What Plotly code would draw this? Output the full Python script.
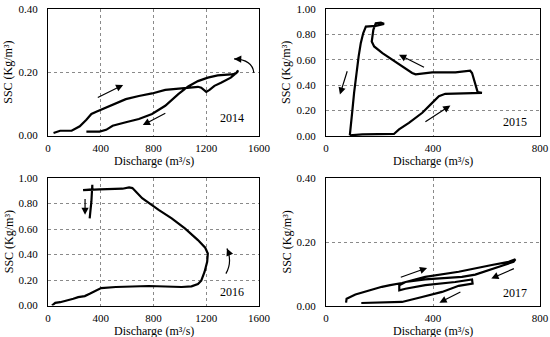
import plotly.graph_objects as go

# ---------------- data ----------------
q2014 = [42, 92, 179, 241, 291, 329, 366, 416, 490, 590, 689, 789, 889, 1038, 1137, 1162, 1200, 1225, 1262, 1312, 1386, 1436, 1441,
         1424, 1386, 1287, 1212, 1137, 1063, 988, 889, 789, 689, 590, 490, 441, 391, 291]
s2014 = [0.008, 0.015, 0.015, 0.029, 0.050, 0.068, 0.075, 0.084, 0.099, 0.115, 0.125, 0.133, 0.144, 0.151, 0.154, 0.151, 0.138, 0.144, 0.157, 0.167, 0.183, 0.2005, 0.206,
         0.196, 0.193, 0.190, 0.183, 0.172, 0.155, 0.131, 0.094, 0.068, 0.052, 0.042, 0.031, 0.018, 0.0125, 0.0125]

q2015 = [89, 136, 254, 273, 310, 360, 397, 422, 446, 508, 583, 567, 558, 546, 539, 484, 397, 335, 322, 285, 248, 211, 180, 171, 177,
         186, 205, 217, 186, 149, 139, 130, 122, 112, 105, 99, 93, 89]
s2015 = [0.005, 0.013, 0.016, 0.052, 0.104, 0.183, 0.261, 0.313, 0.332, 0.334, 0.339, 0.345, 0.405, 0.496, 0.514, 0.501, 0.501, 0.486, 0.496, 0.548, 0.595, 0.653, 0.705, 0.744, 0.836,
         0.888, 0.893, 0.883, 0.867, 0.862, 0.809, 0.731, 0.627, 0.470, 0.339, 0.209, 0.078, 0.005]

q2016 = [30, 55, 92, 142, 192, 229, 279, 316, 366, 403, 515, 764, 1013, 1088, 1137, 1162, 1187, 1207, 1212, 1192, 1137, 1038, 938, 839, 714, 677, 640, 615, 565, 391, 266,
         336, 336, 329, 316]
s2016 = [0.0, 0.021, 0.026, 0.037, 0.053, 0.066, 0.074, 0.092, 0.118, 0.137, 0.145, 0.153, 0.145, 0.150, 0.168, 0.195, 0.263, 0.342, 0.408, 0.453, 0.513, 0.605, 0.684, 0.750, 0.842, 0.882, 0.921, 0.926, 0.916, 0.911, 0.905,
         0.911, 0.947, 0.816, 0.684]

q2017 = [75, 77, 110, 160, 209, 240, 284, 371, 496, 620, 683, 708,
         701, 658, 608, 558, 508, 371, 297, 274, 274, 297, 371, 483, 546, 548, 496, 434, 359, 284, 132]
s2017 = [0.0105, 0.023, 0.036, 0.049, 0.060, 0.065, 0.072, 0.091, 0.107, 0.128, 0.138, 0.146,
         0.138, 0.126, 0.112, 0.098, 0.091, 0.083, 0.075, 0.065, 0.049, 0.054, 0.065, 0.075, 0.083, 0.070, 0.063, 0.044, 0.028, 0.0126, 0.0094]

years = ["2014", "2015", "2016", "2017"]
x_max = [1600, 800, 1600, 800]
y_max = [0.40, 1.00, 1.00, 0.40]
x_ticks = [[0, 400, 800, 1200, 1600], [0, 400, 800], [0, 400, 800, 1200, 1600], [0, 400, 800]]
y_ticks = [[0, 0.2, 0.4], [0, 0.2, 0.4, 0.6, 0.8, 1.0], [0, 0.2, 0.4, 0.6, 0.8, 1.0], [0, 0.2, 0.4]]
x_title = "Discharge (m³/s)"
y_title = "SSC (Kg/m³)"

# ---------------- figure ----------------
W, H = 550, 337
FONT = "Liberation Serif"
fig = go.Figure()

series = [(q2014, s2014), (q2015, s2015), (q2016, s2016), (q2017, s2017)]
# panel boxes in pixels (left, right, top, bottom)
boxes = [(48, 259, 9, 135.5), (326, 540, 9, 136), (48, 259, 178, 305.5), (326, 540, 178, 306)]

for i, (q, s) in enumerate(series):
    n = "" if i == 0 else str(i + 1)
    fig.add_trace(go.Scatter(x=q, y=s, mode="lines", xaxis="x" + n, yaxis="y" + n,
                             line=dict(color="black", width=2.2), showlegend=False, hoverinfo="skip"))
    l, r, t, b = boxes[i]
    common = dict(showline=True, mirror=True, linecolor="black", linewidth=1,
                  showgrid=True, gridcolor="#8a8a8a", griddash="dot", gridwidth=1,
                  zeroline=False, ticks="outside", tickcolor="rgba(0,0,0,0)", automargin=False,
                  tickfont=dict(family=FONT, size=11, color="black"))
    fig.update_layout(**{
        "xaxis" + n: dict(domain=[l / W, r / W], range=[0, x_max[i]], anchor="y" + n,
                          tickvals=x_ticks[i], ticktext=[str(v) for v in x_ticks[i]], ticklen=2, **common),
        "yaxis" + n: dict(domain=[1 - b / H, 1 - t / H], range=[0, y_max[i]], anchor="x" + n,
                          tickvals=y_ticks[i], ticktext=["%.2f" % v for v in y_ticks[i]], ticklen=7, **common),
    })
    # axis titles
    fig.add_annotation(xref="paper", yref="paper", x=(l + r) / 2 / W, y=1 - (b + 25) / H,
                       xanchor="center", yanchor="middle", text=x_title, showarrow=False,
                       font=dict(family=FONT, size=12, color="black"))
    fig.add_annotation(xref="paper", yref="paper", x=(l - 39.5) / W, y=1 - (t + b) / 2 / H,
                       xanchor="center", yanchor="middle",
                       text=y_title, showarrow=False, textangle=-90,
                       font=dict(family=FONT, size=12, color="black"))

# year labels (panel index, x, y)
year_pos = [(0, 1399, 0.055), (1, 707, 0.11), (2, 1399, 0.105), (3, 708, 0.042)]
for (i, xx, yy), yr in zip(year_pos, years):
    n = "" if i == 0 else str(i + 1)
    fig.add_annotation(xref="x" + n, yref="y" + n, x=xx, y=yy, text=yr, showarrow=False,
                       xanchor="center", yanchor="middle",
                       font=dict(family=FONT, size=12, color="black"))

# straight arrows: panel, tail x, tail y, head x, head y
arrows = [
    (0, 366, 0.118, 570, 0.160), (0, 901, 0.073, 719, 0.033),
    (1, 81, 0.522, 52, 0.326), (1, 372, 0.535, 273, 0.640), (1, 366, 0.104, 465, 0.240),
    (2, 281, 0.847, 281, 0.711),
    (3, 274, 0.088, 378, 0.119), (3, 708, 0.119, 618, 0.086), (3, 508, 0.046, 424, 0.0105),
]
for i, tx, ty, hx, hy in arrows:
    n = "" if i == 0 else str(i + 1)
    fig.add_annotation(xref="x" + n, yref="y" + n, axref="x" + n, ayref="y" + n,
                       x=hx, y=hy, ax=tx, ay=ty, text="", showarrow=True,
                       arrowhead=2, arrowsize=1.2, arrowwidth=1.2, arrowcolor="black", standoff=0, startstandoff=0)

# curved arrows: panel, start, control, end
curves = [(0, (1561, 0.198), (1550, 0.240), (1411, 0.242)),
          (2, (1349, 0.25), (1400, 0.342), (1357, 0.447))]
for i, p0, c, p1 in curves:
    n = "" if i == 0 else str(i + 1)
    fig.add_shape(type="path", xref="x" + n, yref="y" + n,
                  path="M %g,%g Q %g,%g %g,%g" % (p0[0], p0[1], c[0], c[1], p1[0], p1[1]),
                  line=dict(color="black", width=1.2))
    f = 0.3
    fig.add_annotation(xref="x" + n, yref="y" + n, axref="x" + n, ayref="y" + n,
                       x=p1[0], y=p1[1], ax=p1[0] - f * (p1[0] - c[0]), ay=p1[1] - f * (p1[1] - c[1]),
                       text="", showarrow=True, arrowhead=2, arrowsize=1.2, arrowwidth=1.2,
                       arrowcolor="black", standoff=0)

fig.update_layout(width=W, height=H, margin=dict(l=0, r=0, t=0, b=0, autoexpand=False),
                  paper_bgcolor="white", plot_bgcolor="white", showlegend=False,
                  font=dict(family=FONT, color="black"))

fig.write_html("out.html", config={"displayModeBar": False},
               post_script="document.body.style.margin='0';document.body.style.padding='0';")
